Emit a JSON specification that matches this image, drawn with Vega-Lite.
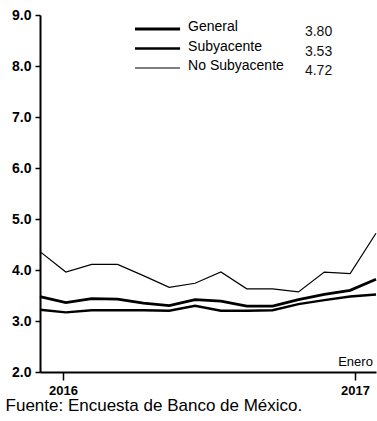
{
  "$schema": "https://vega.github.io/schema/vega-lite/v6.json",
  "width": 336,
  "height": 357,
  "autosize": "none",
  "padding": {"left": 40, "top": 15, "right": 1, "bottom": 49},
  "background": "white",
  "config": {
    "view": {"stroke": null},
    "font": "Liberation Sans",
    "axis": {"grid": false, "domainColor": "black", "tickColor": "black", "labelColor": "black", "domainWidth": 2, "tickWidth": 1.5}
  },
  "title": {"text": "Fuente: Encuesta de Banco de México.", "orient": "bottom", "anchor": "start", "frame": "bounds", "fontSize": 17, "fontWeight": "normal", "color": "black", "offset": 1, "dx": -6},
  "datasets": {
    "serie": [
      {"t": 0, "serie": "General", "valor": 3.48},
      {"t": 1, "serie": "General", "valor": 3.36},
      {"t": 2, "serie": "General", "valor": 3.44},
      {"t": 3, "serie": "General", "valor": 3.43},
      {"t": 4, "serie": "General", "valor": 3.35},
      {"t": 5, "serie": "General", "valor": 3.30},
      {"t": 6, "serie": "General", "valor": 3.42},
      {"t": 7, "serie": "General", "valor": 3.39},
      {"t": 8, "serie": "General", "valor": 3.29},
      {"t": 9, "serie": "General", "valor": 3.29},
      {"t": 10, "serie": "General", "valor": 3.42},
      {"t": 11, "serie": "General", "valor": 3.52},
      {"t": 12, "serie": "General", "valor": 3.60},
      {"t": 13, "serie": "General", "valor": 3.82},
      {"t": 0, "serie": "Subyacente", "valor": 3.22},
      {"t": 1, "serie": "Subyacente", "valor": 3.17},
      {"t": 2, "serie": "Subyacente", "valor": 3.21},
      {"t": 3, "serie": "Subyacente", "valor": 3.21},
      {"t": 4, "serie": "Subyacente", "valor": 3.21},
      {"t": 5, "serie": "Subyacente", "valor": 3.20},
      {"t": 6, "serie": "Subyacente", "valor": 3.30},
      {"t": 7, "serie": "Subyacente", "valor": 3.20},
      {"t": 8, "serie": "Subyacente", "valor": 3.20},
      {"t": 9, "serie": "Subyacente", "valor": 3.21},
      {"t": 10, "serie": "Subyacente", "valor": 3.33},
      {"t": 11, "serie": "Subyacente", "valor": 3.41},
      {"t": 12, "serie": "Subyacente", "valor": 3.48},
      {"t": 13, "serie": "Subyacente", "valor": 3.52},
      {"t": 0, "serie": "No Subyacente", "valor": 4.36},
      {"t": 1, "serie": "No Subyacente", "valor": 3.96},
      {"t": 2, "serie": "No Subyacente", "valor": 4.11},
      {"t": 3, "serie": "No Subyacente", "valor": 4.11},
      {"t": 4, "serie": "No Subyacente", "valor": 3.89},
      {"t": 5, "serie": "No Subyacente", "valor": 3.66},
      {"t": 6, "serie": "No Subyacente", "valor": 3.74},
      {"t": 7, "serie": "No Subyacente", "valor": 3.96},
      {"t": 8, "serie": "No Subyacente", "valor": 3.63},
      {"t": 9, "serie": "No Subyacente", "valor": 3.63},
      {"t": 10, "serie": "No Subyacente", "valor": 3.57},
      {"t": 11, "serie": "No Subyacente", "valor": 3.96},
      {"t": 12, "serie": "No Subyacente", "valor": 3.93},
      {"t": 13, "serie": "No Subyacente", "valor": 4.72}
    ],
    "leyenda": [
      {"serie": "General", "ultimo": "3.80"},
      {"serie": "Subyacente", "ultimo": "3.53"},
      {"serie": "No Subyacente", "ultimo": "4.72"}
    ]
  },
  "layer": [
    {
      "layer": [
        {
          "data": {"name": "serie"},
          "mark": {"type": "line", "color": "black"},
          "encoding": {
            "x": {"field": "t", "type": "quantitative", "scale": {"domain": [0, 13], "nice": false, "zero": false},
              "axis": {"values": [0.89, 12.19], "labelExpr": "datum.value < 6 ? '2016' : '2017'", "title": null, "tickSize": 8, "labelPadding": 4, "labelFontSize": 13, "labelFontWeight": "bold", "labelFlush": false}},
            "y": {"field": "valor", "type": "quantitative", "scale": {"domain": [2, 9], "nice": false},
              "axis": {"values": [2, 3, 4, 5, 6, 7, 8, 9], "format": ".1f", "title": null, "tickSize": 5, "labelPadding": 4, "labelFontSize": 14, "labelFontWeight": "bold"}},
            "detail": {"field": "serie", "type": "nominal"},
            "strokeWidth": {"field": "serie", "type": "nominal", "scale": {"type": "ordinal", "domain": ["General", "Subyacente", "No Subyacente"], "range": [2.8, 2.4, 1.2]}, "legend": null}
          }
        },
        {
          "data": {"values": [{"texto": "Enero"}]},
          "mark": {"type": "text", "align": "right", "baseline": "alphabetic", "fontSize": 13, "color": "black"},
          "encoding": {
            "x": {"datum": 12.88, "type": "quantitative"},
            "y": {"datum": 2.11, "type": "quantitative"},
            "text": {"field": "texto"}
          }
        }
      ]
    },
    {
      "data": {"name": "leyenda"},
      "encoding": {
        "y": {"field": "serie", "type": "ordinal", "scale": {"type": "point", "domain": ["General", "Subyacente", "No Subyacente"], "range": [14, 53], "padding": 0}, "axis": null}
      },
      "layer": [
        {
          "mark": {"type": "rule", "color": "black"},
          "encoding": {
            "x": {"datum": 3.675, "type": "quantitative"},
            "x2": {"datum": 5.42},
            "strokeWidth": {"field": "serie", "type": "nominal", "scale": {"type": "ordinal", "domain": ["General", "Subyacente", "No Subyacente"], "range": [2.4, 2.4, 1.2]}, "legend": null}
          }
        },
        {
          "mark": {"type": "text", "align": "left", "baseline": "middle", "fontSize": 14, "dy": -2, "color": "black"},
          "encoding": {
            "x": {"datum": 5.73, "type": "quantitative"},
            "text": {"field": "serie"}
          }
        },
        {
          "mark": {"type": "text", "align": "left", "baseline": "middle", "fontSize": 14, "dy": 3, "color": "#111"},
          "encoding": {
            "x": {"datum": 10.25, "type": "quantitative"},
            "text": {"field": "ultimo"}
          }
        }
      ]
    }
  ],
  "resolve": {"scale": {"y": "independent"}}
}
